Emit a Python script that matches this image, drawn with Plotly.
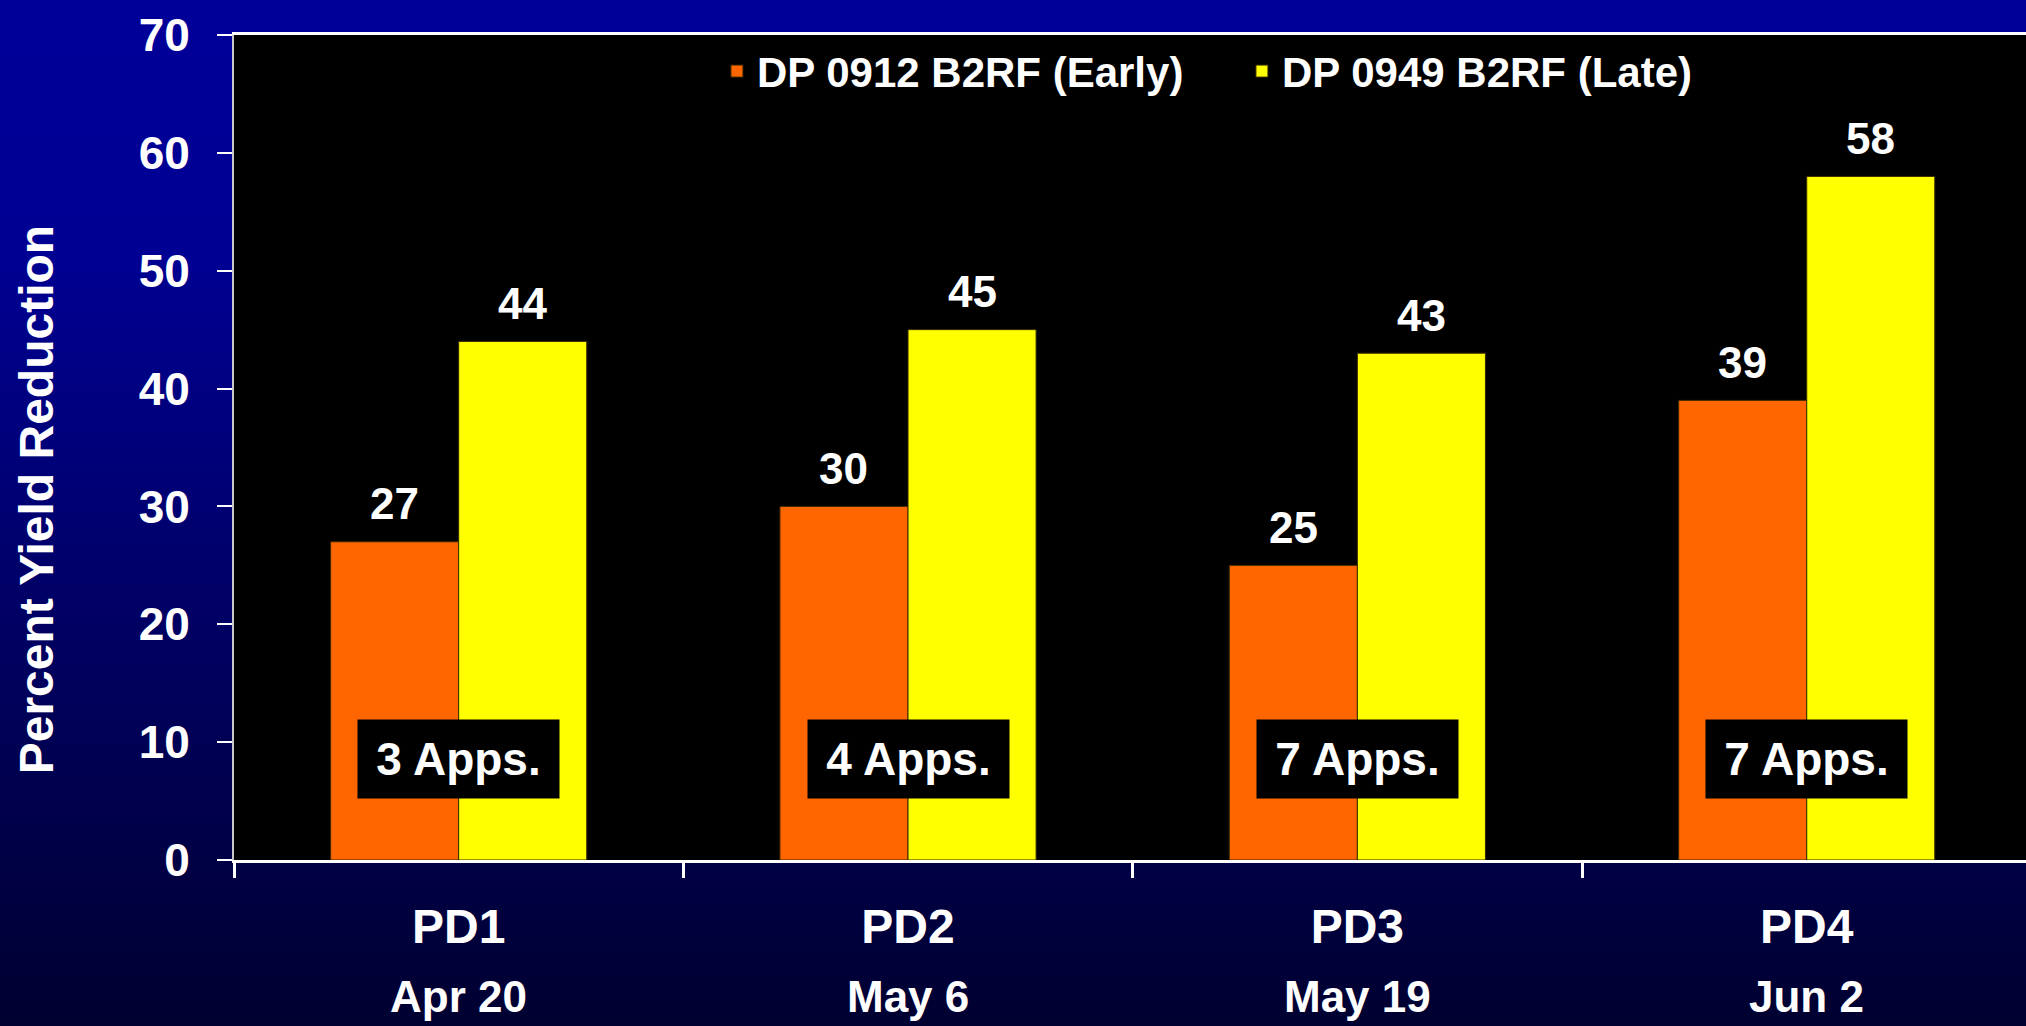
import base64

import plotly.graph_objects as go

CATEGORIES = ["PD1", "PD2", "PD3", "PD4"]
DATES = ["Apr 20", "May 6", "May 19", "Jun 2"]
APPS = ["3 Apps.", "4 Apps.", "7 Apps.", "7 Apps."]
EARLY_NAME = "DP 0912 B2RF (Early)"
LATE_NAME = "DP 0949 B2RF (Late)"
EARLY = [27, 30, 25, 39]
LATE = [44, 45, 43, 58]
Y_TICKS = [0, 10, 20, 30, 40, 50, 60, 70]
Y_TITLE = "Percent Yield Reduction"

W, H = 2026, 1026
M_L, M_R, M_T, M_B = 234, 0, 35, 166
FONT = "Arial, Liberation Sans, sans-serif"
ORANGE = "#FF6600"
YELLOW = "#FFFF00"
BARGAP = 0.43


def _gradient_uri() -> str:
    svg = (
        '<svg xmlns="http://www.w3.org/2000/svg" width="200" height="200" '
        'preserveAspectRatio="none"><defs><linearGradient id="g" x1="0" y1="0" '
        'x2="0" y2="1"><stop offset="0" stop-color="#000099"/>'
        '<stop offset="0.25" stop-color="#000092"/>'
        '<stop offset="1" stop-color="#000030"/></linearGradient></defs>'
        '<rect width="200" height="200" fill="url(#g)"/></svg>'
    )
    return "data:image/svg+xml;base64," + base64.b64encode(svg.encode()).decode()


fig = go.Figure()
for name, vals, color in [(EARLY_NAME, EARLY, ORANGE), (LATE_NAME, LATE, YELLOW)]:
    fig.add_trace(
        go.Bar(
            x=CATEGORIES,
            y=vals,
            name=name,
            marker=dict(color=color, line=dict(color="#3a2a00", width=1)),
        )
    )

plot_w = W - M_L - M_R
plot_h = H - M_T - M_B

# value labels above bars, "Apps." boxes, date line under each category
half = (1 - BARGAP) / 4
annotations = []
for i in range(len(CATEGORIES)):
    for vals, off in [(EARLY, -half), (LATE, half)]:
        annotations.append(
            dict(
                x=i + off, y=vals[i], xref="x", yref="y",
                text=str(vals[i]), showarrow=False,
                yanchor="middle", yshift=38,
                font=dict(family=FONT, size=44, color="white", weight=700),
            )
        )
    annotations.append(
        dict(
            x=i, y=8.6, xref="x", yref="y", text=APPS[i], showarrow=False,
            bgcolor="black", borderpad=4, width=193, height=70,
            font=dict(family=FONT, size=46, color="white", weight=700),
        )
    )
    annotations.append(
        dict(
            x=i, y=-0.165, xref="x", yref="paper", text=DATES[i],
            showarrow=False, yanchor="middle",
            font=dict(family=FONT, size=44, color="white", weight=700),
        )
    )

# y title sits a bit below the axis middle in the original
annotations.append(
    dict(
        x=(36 - M_L) / plot_w, y=0.436, xref="paper", yref="paper",
        text=Y_TITLE, textangle=-90, showarrow=False,
        xanchor="center", yanchor="middle",
        font=dict(family=FONT, size=48, color="white", weight=700),
    )
)

fig.update_layout(
    width=W,
    height=H,
    margin=dict(l=M_L, r=M_R, t=M_T, b=M_B),
    paper_bgcolor="#000066",
    plot_bgcolor="black",
    barmode="group",
    bargap=BARGAP,
    bargroupgap=0,
    showlegend=True,
    legend=dict(
        orientation="h",
        x=0.2695, xanchor="left",
        y=0.956, yanchor="middle",
        bgcolor="rgba(0,0,0,0)",
        font=dict(family=FONT, size=42, color="white", weight=700),
        entrywidth=480,
    ),
    annotations=annotations,
    images=[
        dict(
            source=_gradient_uri(), xref="paper", yref="paper",
            x=-M_L / plot_w, y=1 + M_T / plot_h,
            sizex=W / plot_w, sizey=H / plot_h,
            sizing="stretch", layer="below", xanchor="left", yanchor="top",
        )
    ],
    shapes=[
        dict(
            type="rect", xref="x domain", yref="y domain",
            x0=0, x1=1, y0=0, y1=1, fillcolor="black",
            line=dict(width=0), layer="below",
        )
    ],
)

fig.update_xaxes(
    type="category",
    range=[-0.5, 3.488],
    showline=True, linecolor="white", linewidth=3, mirror=True,
    ticks="outside", tickson="boundaries", ticklen=15, tickwidth=3,
    tickcolor="white",
    tickfont=dict(family=FONT, size=48, color="white", weight=700),
    ticklabelstandoff=22,
    showgrid=False, zeroline=False,
)
fig.update_yaxes(
    range=[0, 70],
    tickvals=Y_TICKS,
    showline=True, linecolor="#c8c8c8", linewidth=2,
    ticks="outside", ticklen=15, tickwidth=2, tickcolor="white",
    tickfont=dict(family=FONT, size=46, color="white", weight=700),
    ticklabelstandoff=18,
    showgrid=False, zeroline=False,
)

fig.write_html(
    "out.html",
    config={"displayModeBar": False},
    post_script="document.body.style.margin='0';document.body.style.overflow='hidden';",
)
